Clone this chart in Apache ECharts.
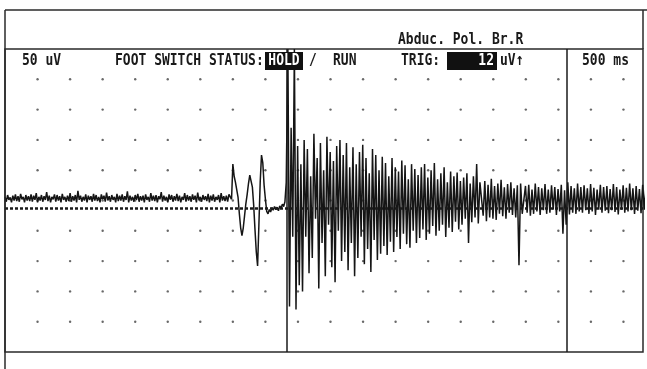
<!DOCTYPE html>
<html>
<head>
<meta charset="utf-8">
<script src="https://cdn.jsdelivr.net/npm/echarts@6/dist/echarts.min.js"></script>
<style>
  html, body {margin: 0; padding: 0; background: #fff;}
  #chart {width: 647px; height: 369px;}
</style>
</head>
<body>
<div id="chart"></div>
<script>
// sweep: 500 ms per division, 50 uV per division
const sweepMaxMs = 9800;
const gridXs = [500, 1000, 1500, 2000, 2500, 3000, 3500, 4000, 4500, 5000,
  5500, 6000, 6500, 7000, 7500, 8000, 8500, 9000, 9500];
const gridYs = [-200, -150, -100, -50, 0, 50, 100, 150, 200];

const triggerLevel = -13;        // dotted trigger line, uV
const cursorsMs = [4332, 8633];  // vertical cursors

// resting activity before the response (uV), 20 ms apart from 0 ms
const restStart = 0, restStep = 20;
const restTrace = [
  6, -2, 9, 1, 5, -3, 8, 0, 10, -1,
  7, -2, 11, 2, 6, -3, 9, 0, 7, -1,
  10, -2, 8, 1, 12, -3, 6, 0, 9, -2,
  7, 1, 14, -1, 8, -3, 6, 2, 10, -2,
  9, 0, 7, -3, 11, 1, 6, -2, 8, -1,
  12, -2, 7, 0, 9, -3, 16, 1, 8, -2,
  6, 0, 10, -3, 8, 1, 7, -2, 11, 0,
  9, -1, 6, -3, 10, 2, 8, -2, 13, 0,
  7, -2, 9, 1, 6, -3, 11, -1, 8, 0,
  10, -2, 7, 1, 15, -3, 8, 0, 6, -2,
  9, 1, 11, -2, 7, 0, 8, -3, 10, 1,
  6, -2, 12, 0, 8, -1, 9, -3, 7, 2,
  14, -2, 8, 0, 6, -3, 10, 1, 9, -2,
  7, 0, 11, -1, 8, -3, 6, 1, 12, -2,
  9, 0, 7, -2, 10, 1, 8, -3, 13, 0,
  6, -2, 9, 1, 7, -1, 11, -3, 8, 0,
  10, -2, 6, 1, 9, -3, 12, 0, 7, -1,
  8, -2, 10
];

// early polyphasic response (uV), 20 ms apart
const respStart = 3480, respStep = 20;
const respTrace = [
  2, 60, 40, 30, 28, 5, -22, -45, -58, -45,
  -25, -5, 10, 28, 42, 32, 22, -8, -48, -85,
  -108, -40, 30, 75, 62, 25, 2, -18, -22, -15,
  -19, -12, -16, -10, -15, -11, -17, -9, -13, -6,
  -10, -2
];

// interference burst (uV), 25 ms apart
const burstStart = 4320, burstStep = 25;
const burstTrace = [
  30, 250, -175, 120, -60, 250, -180, 90, -140, 60, -150, 100,
  -60, 85, -120, 40, -95, 110, -30, 70, -145, 95, -70, 50,
  -125, 105, -40, 80, -110, 65, -135, 90, -50, 100, -100, 75,
  -85, 95, -115, 55, -70, 88, -125, 60, -95, 80, -60, 92,
  -105, 70, -80, 45, -118, 85, -65, 75, -98, 50, -88, 72,
  -75, 62, -90, 40, -68, 70, -85, 55, -60, 48, -80, 66,
  -55, 58, -72, 35, -78, 60, -50, 52, -70, 42, -62, 55,
  -48, 60, -65, 38, -55, 50, -42, 62, -58, 35, -50, 45,
  -40, 55, -60, 30, -45, 48, -52, 40, -35, 46, -48, 32,
  -40, 38, -30, 45, -70, 28, -36, 40, -28, 60, -38, 30,
  30, -25, 32, -34, 26, -28, 36, -30, 24, -32, 28, -22,
  34, -26, 22, -30, 27, -20, 30, -24, 20, -28, 25, -107,
  28, -22, -20, 24, -20, 26, -25, 18, -22, 28, -18, 22,
  -24, 20, -16, 27, -22, 18, -20, 25, -15, 22, -24, 19,
  -18, 26, -55, 17, -40, 30, -23, 24, -20, 20, -22, 28,
  -18, 22, -20, 25, -16, 20, -22, 27, -18, 21, -24, 18,
  -15, 26, -20, 22, -17, 24, -21, 19, -16, 27, -19, 22,
  -23, 18, -15, 25, -20, 21, -18, 28, -16, 20, -22, 24,
  -17, 19, -21, 26, -15, 22, -19, 23, -14
];

const toPoints = (vals, start, step) => vals.map((v, i) => [start + i * step, v]);
const trace = [
  ...toPoints(restTrace, restStart, restStep),
  ...toPoints(respTrace, respStart, respStep),
  ...toPoints(burstTrace, burstStart, burstStep)
];
const dots = [];
gridXs.forEach(x => gridYs.forEach(y => dots.push([x, y])));

// the monitor font is tall and narrow: mono bold stretched vertically
const font = {fontFamily: 'DejaVu Sans Mono', fontWeight: 'bold', fontSize: 13, fill: '#1a1a1a'};
const label = (text, x, y, extra) => ({
  type: 'text', x, y, z: 100, scaleY: 1.28,
  style: {text, ...font, textVerticalAlign: 'middle', ...(extra || {})}
});
const line = (x1, y1, x2, y2) => ({
  type: 'line', z: 100, shape: {x1, y1, x2, y2},
  style: {stroke: '#2a2a2a', lineWidth: 1.5}
});

const chart = echarts.init(document.getElementById('chart'));
chart.setOption({
  backgroundColor: '#fff',
  animation: false,
  grid: {left: 5, right: 4, top: 49, bottom: 17, show: true, borderColor: '#2a2a2a', borderWidth: 1.5},
  xAxis: {type: 'value', min: 0, max: sweepMaxMs, interval: 500, show: false},
  yAxis: {type: 'value', min: -250, max: 250, interval: 50, show: false},
  series: [
    {
      type: 'scatter',
      data: dots,
      symbolSize: 2.4,
      silent: true,
      itemStyle: {color: '#444'}
    },
    {
      type: 'line',
      data: trace,
      showSymbol: false,
      clip: true,
      lineStyle: {color: '#151515', width: 1.5},
      markLine: {
        silent: true,
        symbol: ['none', 'none'],
        label: {show: false},
        data: [
          {yAxis: triggerLevel, lineStyle: {color: '#1a1a1a', width: 2.5, type: [3, 2]}},
          ...cursorsMs.map(ms => ({xAxis: ms, lineStyle: {color: '#1a1a1a', width: 1.5, type: 'solid'}}))
        ]
      }
    }
  ],
  graphic: [
    line(5, 10, 647, 10),
    line(5, 10, 5, 369),
    line(643, 10, 643, 49),
    label('Abduc. Pol. Br.R', 398, 40),
    label('50 uV', 22, 61),
    label('FOOT SWITCH STATUS:', 115, 61),
    {type: 'rect', z: 100, shape: {x: 265, y: 52, width: 38, height: 18}, style: {fill: '#111'}},
    label('HOLD', 284, 61, {fill: '#fff', textAlign: 'center'}),
    label('/', 309, 61),
    label('RUN', 333, 61),
    label('TRIG:', 401, 61),
    {type: 'rect', z: 100, shape: {x: 447, y: 52, width: 50, height: 18}, style: {fill: '#111'}},
    label('12', 494, 61, {fill: '#fff', textAlign: 'right'}),
    label('uV\u2191', 500, 61),
    label('500 ms', 582, 61)
  ]
});
</script>
</body>
</html>
